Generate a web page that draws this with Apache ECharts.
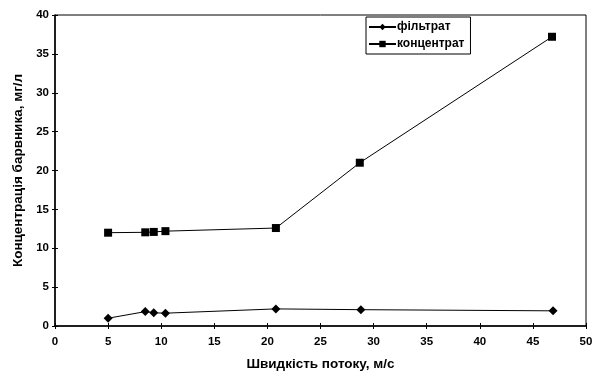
<!DOCTYPE html>
<html><head><meta charset="utf-8">
<script src="https://cdn.jsdelivr.net/npm/echarts@6/dist/echarts.min.js"></script>
<style>html,body{margin:0;padding:0;background:#fff}#c{width:593px;height:371px}</style>
</head><body><div id="c"></div>
<script>
var filtrateX = [5, 8.5, 9.3, 10.4, 20.8, 28.8, 46.9];
var filtrateY = [1.0, 1.85, 1.7, 1.65, 2.2, 2.1, 1.95];
var concX = [5, 8.5, 9.3, 10.4, 20.8, 28.7, 46.8];
var concY = [12.0, 12.05, 12.1, 12.2, 12.6, 21.0, 37.2];
var seriesNames = ['фільтрат', 'концентрат'];
var xTitle = 'Швидкість потоку, м/с';
var yTitle = 'Концентрація барвника, мг/л';

function pairs(xs, ys){ return xs.map(function(x,i){return [x, ys[i]];}); }
var font = 'Liberation Sans, Arial, sans-serif';
var lbl = {fontFamily:font, fontSize:11.5, fontWeight:'bold', color:'#000'};
var chart = echarts.init(document.getElementById('c'));
chart.setOption({
  animation:false,
  backgroundColor:'#fff',
  grid:{left:55, right:7, top:15, bottom:45, show:true, borderColor:'#000', borderWidth:1,
        containLabel:false, outerBoundsMode:'none'},
  legend:{
    top:17, left:366, orient:'vertical', itemGap:5,
    itemWidth:27, itemHeight:8,
    borderColor:'#000', borderWidth:1, padding:[4,6,4,2],
    textStyle:{fontFamily:font, fontSize:12, fontWeight:'bold', color:'#000', padding:[0,0,0,-4]},
    data:seriesNames
  },
  xAxis:[{
    type:'value', min:0, max:50, interval:5, position:'bottom',
    name:xTitle, nameLocation:'middle', nameGap:31,
    nameTextStyle:{fontFamily:font, fontSize:13.5, fontWeight:'bold', color:'#000'},
    axisLine:{lineStyle:{color:'#000', width:1.5}},
    axisTick:{show:true, inside:false, length:3, lineStyle:{color:'#000'}},
    axisLabel:Object.assign({margin:10}, lbl),
    splitLine:{show:false}
  },{
    type:'value', min:0, max:50, interval:5, position:'bottom',
    axisLine:{show:false},
    axisTick:{show:true, inside:true, length:3, lineStyle:{color:'#000'}},
    axisLabel:{show:false}, splitLine:{show:false}
  }],
  yAxis:[{
    type:'value', min:0, max:40, interval:5, position:'left',
    name:yTitle, nameLocation:'middle', nameGap:29,
    nameTextStyle:{fontFamily:font, fontSize:13.5, fontWeight:'bold', color:'#000'},
    axisLine:{lineStyle:{color:'#000', width:1.5}},
    axisTick:{show:true, length:3, lineStyle:{color:'#000'}},
    axisLabel:Object.assign({margin:6}, lbl),
    splitLine:{show:false}
  },{
    type:'value', min:0, max:40, interval:5, position:'left',
    axisLine:{show:false},
    axisTick:{show:true, inside:true, length:3, lineStyle:{color:'#000'}},
    axisLabel:{show:false}, splitLine:{show:false}
  }],
  series:[
    {name:seriesNames[0], type:'line', data:pairs(filtrateX, filtrateY),
     symbol:'diamond', symbolSize:9, itemStyle:{color:'#000'}, lineStyle:{color:'#000', width:1}},
    {name:seriesNames[1], type:'line', data:pairs(concX, concY),
     symbol:'rect', symbolSize:8, itemStyle:{color:'#000'}, lineStyle:{color:'#000', width:1}}
  ]
});
</script></body></html>
